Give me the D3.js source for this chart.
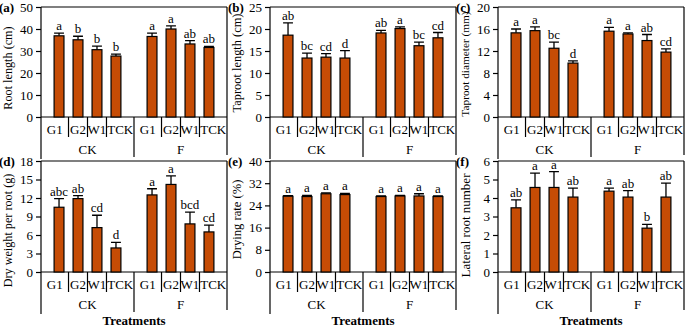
<!DOCTYPE html>
<html>
<head>
<meta charset="utf-8">
<script src="https://cdn.jsdelivr.net/npm/d3@7"></script>
<style>
  body { margin: 0; background: #fff; }
  svg { display: block; font-family: "Liberation Serif", "Times New Roman", serif; }
  text { fill: #000; }
</style>
</head>
<body>
<div id="chart-area"></div>
<script>
// data
var groups = ["CK", "F"];
var treatments = ["G1", "G2", "W1", "TCK"];

var rootLength = [36.9, 35.1, 30.6, 27.7, 36.6, 40.0, 33.2, 31.6];
var rootLengthErr = [1.2, 1.6, 1.6, 0.9, 1.5, 1.4, 1.5, 0.5];
var rootLengthSig = ["a", "b", "b", "b", "a", "a", "ab", "ab"];

var taprootLength = [18.6, 13.4, 13.6, 13.4, 19.1, 20.1, 16.2, 18.0];
var taprootLengthErr = [2.8, 1.1, 0.8, 1.7, 0.6, 0.4, 0.8, 1.2];
var taprootLengthSig = ["ab", "bc", "cd", "d", "ab", "a", "bc", "cd"];

var taprootDiam = [15.3, 15.7, 12.5, 9.8, 15.6, 15.1, 13.9, 11.8];
var taprootDiamErr = [0.7, 0.7, 1.1, 0.4, 0.7, 0.2, 1.1, 0.6];
var taprootDiamSig = ["a", "a", "bc", "d", "a", "a", "ab", "cd"];

var dryWeight = [10.5, 11.9, 7.2, 3.9, 12.5, 14.2, 7.8, 6.5];
var dryWeightErr = [1.4, 0.5, 2.0, 0.9, 1.0, 1.4, 1.9, 1.1];
var dryWeightSig = ["abc", "ab", "cd", "d", "a", "a", "bcd", "cd"];

var dryingRate = [27.3, 27.2, 28.2, 27.9, 27.2, 27.4, 27.4, 27.2];
var dryingRateErr = [0.2, 0.4, 0.3, 0.4, 0.2, 0.2, 0.8, 0.2];
var dryingRateSig = ["a", "a", "a", "a", "a", "a", "a", "a"];

var lateralRoots = [3.47, 4.57, 4.57, 4.05, 4.37, 4.05, 2.37, 4.05];
var lateralRootsErr = [0.43, 0.78, 0.86, 0.48, 0.16, 0.35, 0.2, 0.75];
var lateralRootsSig = ["ab", "a", "a", "ab", "a", "ab", "b", "ab"];

var panels = [
  { tag: "(a)", title: "Root length (cm)", max: 50, step: 10, v: rootLength, e: rootLengthErr, s: rootLengthSig },
  { tag: "(b)", title: "Taproot length (cm)", max: 25, step: 5, v: taprootLength, e: taprootLengthErr, s: taprootLengthSig },
  { tag: "(c)", title: "Taproot diameter (mm)", max: 20, step: 4, v: taprootDiam, e: taprootDiamErr, s: taprootDiamSig },
  { tag: "(d)", title: "Dry weight per root (g)", max: 18, step: 3, v: dryWeight, e: dryWeightErr, s: dryWeightSig },
  { tag: "(e)", title: "Drying rate (%)", max: 40, step: 8, v: dryingRate, e: dryingRateErr, s: dryingRateSig },
  { tag: "(f)", title: "Lateral root number", max: 6, step: 1, v: lateralRoots, e: lateralRootsErr, s: lateralRootsSig }
];

// layout
var width = 685, height = 327;
var cols = [[41, 227], [270, 456], [498, 684]];
var rows = [[7, 117], [161, 272]];
var titleShift = [6, 1, 2, 14, 3, 9];
var titleSize = [12.2, 12.4, 11.3, 12.2, 12.6, 13];
var barColor = "#c64c05";
var fs = 13;

var svg = d3.select("#chart-area").append("svg")
  .attr("width", width)
  .attr("height", height);

panels.forEach((p, pi) => {
  var col = pi % 3, row = Math.floor(pi / 3);
  var x0 = cols[col][0], x1 = cols[col][1];
  var top = rows[row][0], zero = rows[row][1];
  var g = svg.append("g");

  var y = d3.scaleLinear().domain([0, p.max]).range([zero, top]);
  var gx = d3.scaleBand().domain(groups).range([x0, x1]);
  var tx = d3.scaleBand().domain(treatments).range([0, gx.bandwidth()]).paddingOuter(0.45);
  var bw = tx.bandwidth() * 0.52;

  // frame
  g.append("line").attr("x1", x0).attr("x2", x1).attr("y1", top).attr("y2", top);
  g.append("line").attr("x1", x0).attr("x2", x0).attr("y1", top).attr("y2", zero + 42);
  g.append("line").attr("x1", x1).attr("x2", x1).attr("y1", top).attr("y2", zero + 38);
  g.append("line").attr("x1", x0).attr("x2", x1).attr("y1", zero).attr("y2", zero);
  g.selectAll("line").attr("stroke", "#000").attr("stroke-width", 1.2);

  // y axis
  var ya = g.append("g")
    .attr("transform", "translate(" + x0 + ",0)")
    .call(d3.axisLeft(y)
      .tickValues(d3.range(0, p.max + 0.001, p.step))
      .tickFormat(d3.format("d"))
      .tickSize(5).tickPadding(3).tickSizeOuter(0));
  ya.select(".domain").remove();
  ya.selectAll(".tick line").attr("stroke-width", 1.2);
  ya.selectAll("text").attr("font-size", fs).attr("font-family", "Liberation Serif").attr("fill", "#000");

  svg.append("text")
    .attr("x", x0 - 42)
    .attr("y", top + 4.5)
    .attr("font-size", fs)
    .attr("font-weight", "bold")
    .text(p.tag);

  svg.append("text")
    .attr("transform", "rotate(-90)")
    .attr("x", -(top + zero) / 2 - titleShift[pi])
    .attr("y", x0 - 33)
    .attr("dy", "0.35em")
    .attr("text-anchor", "middle")
    .attr("font-size", titleSize[pi])
    .text(p.title);

  // x categories
  groups.forEach((grp, gi) => {
    var gs = gx(grp);
    var ge = gs + gx.bandwidth();
    var seps = treatments.slice(1).map(t => gs + tx(t));
    var edges = [gs].concat(seps, [ge]);
    treatments.forEach((t, ti) => {
      g.append("text")
        .attr("x", (edges[ti] + edges[ti + 1]) / 2)
        .attr("y", zero + 16.5)
        .attr("text-anchor", "middle")
        .attr("font-size", fs)
        .text(t);
    });
    seps.forEach(s => {
      g.append("line").attr("x1", s).attr("x2", s).attr("y1", zero).attr("y2", zero + 20)
        .attr("stroke", "#000").attr("stroke-width", 1.2);
    });
    if (gi > 0) {
      g.append("line").attr("x1", gs).attr("x2", gs).attr("y1", zero).attr("y2", zero + 40)
        .attr("stroke", "#000").attr("stroke-width", 1.2);
    }
    g.append("text")
      .attr("x", gs + gx.bandwidth() / 2)
      .attr("y", zero + 37)
      .attr("text-anchor", "middle")
      .attr("font-size", fs)
      .text(grp);
  });

  var data = p.v.map((v, i) => ({
    grp: groups[Math.floor(i / 4)],
    trt: treatments[i % 4],
    v: v, e: p.e[i], s: p.s[i]
  }));
  var cx = d => gx(d.grp) + tx(d.trt) + tx.bandwidth() / 2;

  // error bars
  g.selectAll(".err").data(data).enter().append("path")
    .attr("class", "err")
    .attr("d", d => "M" + cx(d) + "," + y(d.v) + "V" + y(d.v + d.e) +
      "M" + (cx(d) - bw / 2) + "," + y(d.v + d.e) + "H" + (cx(d) + bw / 2))
    .attr("stroke", "#000")
    .attr("stroke-width", 1.3)
    .attr("fill", "none");

  g.selectAll(".bar").data(data).enter().append("rect")
    .attr("class", "bar")
    .attr("x", d => cx(d) - bw / 2)
    .attr("y", d => y(d.v))
    .attr("width", bw)
    .attr("height", d => zero - y(d.v))
    .attr("fill", barColor)
    .attr("stroke", "#000")
    .attr("stroke-width", 1.2);

  g.selectAll(".sig").data(data).enter().append("text")
    .attr("class", "sig")
    .attr("x", cx)
    .attr("y", d => y(d.v + d.e) - 3)
    .attr("text-anchor", "middle")
    .attr("font-size", fs)
    .attr("fill", "#000")
    .text(d => d.s);

  if (row === 1) {
    svg.append("text")
      .attr("x", (x0 + x1) / 2)
      .attr("y", 325)
      .attr("text-anchor", "middle")
      .attr("font-size", fs)
      .attr("font-weight", "bold")
      .text("Treatments");
  }
});
</script>
</body>
</html>
